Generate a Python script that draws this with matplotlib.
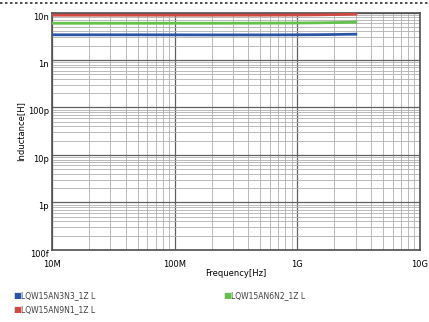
import numpy as np
import matplotlib.pyplot as plt
from matplotlib.ticker import FixedLocator, LogLocator, NullFormatter

# frequency points [Hz] and inductance [H]
freq = [1e7, 2e7, 5e7, 1e8, 2e8, 5e8, 1e9, 1.5e9, 2e9, 2.5e9, 3e9]
l_3n3 = [3.4e-9, 3.4e-9, 3.4e-9, 3.39e-9, 3.38e-9, 3.38e-9, 3.4e-9, 3.42e-9, 3.45e-9, 3.48e-9, 3.5e-9]
l_9n1 = [8.8e-9, 8.8e-9, 8.8e-9, 8.8e-9, 8.8e-9, 8.82e-9, 8.88e-9, 8.95e-9, 9.05e-9, 9.15e-9, 9.25e-9]
l_6n2 = [5.95e-9, 5.95e-9, 5.95e-9, 5.95e-9, 5.95e-9, 5.97e-9, 6.02e-9, 6.08e-9, 6.15e-9, 6.22e-9, 6.3e-9]

names = ['LQW15AN3N3_1Z L', 'LQW15AN9N1_1Z L', 'LQW15AN6N2_1Z L']
colors = ['#2a55a5', '#d04a44', '#62c24a']

xticks = [1e7, 1e8, 1e9, 1e10]
xlabels = ['10M', '100M', '1G', '10G']
yticks = [1e-13, 1e-12, 1e-11, 1e-10, 1e-9, 1e-8]
ylabels = ['100f', '1p', '10p', '100p', '1n', '10n']

fig = plt.figure(figsize=(4.29, 3.22), dpi=100)
ax = fig.add_axes([0.121, 0.224, 0.858, 0.737])

ax.plot(freq, l_3n3, color=colors[0], lw=2, zorder=3)
ax.plot(freq, l_9n1, color=colors[1], lw=2, zorder=3)
ax.plot(freq, l_6n2, color=colors[2], lw=2, zorder=3)

ax.set_xscale('log')
ax.set_yscale('log')
ax.set_xlim(1e7, 1e10)
ax.set_ylim(1e-13, 1e-8)

ax.xaxis.set_major_locator(FixedLocator(xticks))
ax.set_xticklabels(xlabels)
ax.yaxis.set_major_locator(FixedLocator(yticks))
ax.set_yticklabels(ylabels, va='top')
ax.xaxis.set_minor_locator(LogLocator(base=10, subs=np.arange(2, 10)))
ax.yaxis.set_minor_locator(LogLocator(base=10, subs=np.arange(2, 10)))
ax.xaxis.set_minor_formatter(NullFormatter())
ax.yaxis.set_minor_formatter(NullFormatter())

ax.grid(True, which='major', color='#606060', lw=0.9)
ax.grid(True, which='minor', color='#b0b0b0', lw=0.6)
ax.set_axisbelow(True)
ax.tick_params(which='both', length=0, labelsize=6)
ax.tick_params(axis='x', pad=7)
ax.tick_params(axis='y', pad=2)
for s in ax.spines.values():
    s.set_color('#505050')
    s.set_linewidth(1.2)

ax.set_xlabel('Frequency[Hz]', fontsize=6, labelpad=0)
ax.set_ylabel('Inductance[H]', fontsize=6, labelpad=2)

# legend below the plot
leg_pos = [(0.03, 0.081), (0.03, 0.038), (0.52, 0.081)]
for (x, y), c, n in zip(leg_pos, colors, names):
    fig.text(x, y, '\u25a0', color=c, fontsize=6, va='center')
    fig.text(x + 0.018, y, n, color='#404040', fontsize=5.5, va='center')

# dotted top border
fig.add_artist(plt.Line2D([0, 1], [0.99, 0.99], transform=fig.transFigure,
                          color='#303030', lw=1.2, ls=(0, (1.5, 1.5))))

fig.savefig('out.png', dpi=100)
